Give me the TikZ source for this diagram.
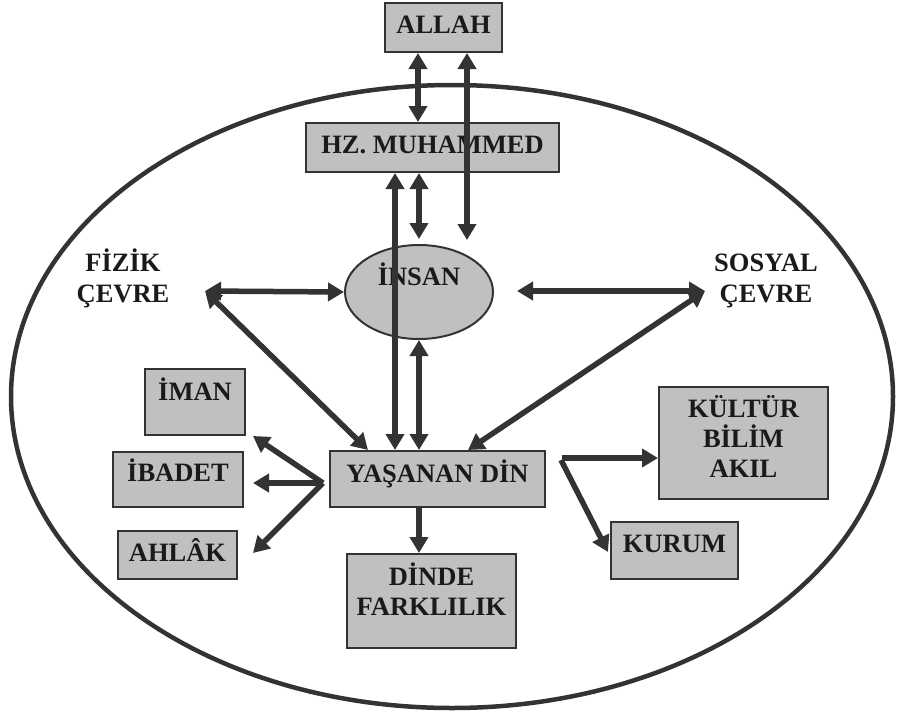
\documentclass[tikz,border=0pt]{standalone}
\usepackage{fontspec}
\setmainfont{Liberation Serif}
\usetikzlibrary{arrows.meta,shapes.geometric}
\definecolor{boxgray}{HTML}{C0C0C0}
\definecolor{inkgray}{HTML}{333333}
\definecolor{txtgray}{HTML}{1A1A1A}
\tikzset{
  boxnode/.style={draw=inkgray, line width=2pt, fill=boxgray, inner sep=0pt, rectangle},
  lbl/.style={anchor=base, inner sep=0pt, text=txtgray, font=\fontsize{26.5}{30}\selectfont\bfseries},
  arr/.style={draw=inkgray, line width=5.5pt, -{Triangle[length=16pt,width=18pt]}},
  dbl/.style={draw=inkgray, line width=5.5pt, {Triangle[length=16pt,width=18pt]}-{Triangle[length=16pt,width=18pt]}},
}
\begin{document}
\begin{tikzpicture}[x=1pt,y=-1pt]
\useasboundingbox (0,0) rectangle (897,713);
% outer ellipse
\draw[inkgray, line width=4.5pt] (452,396.5) ellipse [x radius=441, y radius=311.5];
% boxes
\node[boxnode, minimum width=117pt, minimum height=49pt] (allah) at (443.5,27.5) {};
\node[boxnode, minimum width=253pt, minimum height=49pt] (hz) at (432.5,147.5) {};
\node[draw=inkgray, line width=2pt, fill=boxgray, ellipse, inner sep=0pt, minimum width=148pt, minimum height=94pt] (insan) at (419,292) {};
\node[boxnode, minimum width=215pt, minimum height=56pt] (yasanan) at (437.5,479) {};
\node[boxnode, minimum width=100pt, minimum height=66pt] (iman) at (195,402) {};
\node[boxnode, minimum width=130pt, minimum height=55pt] (ibadet) at (178,479.5) {};
\node[boxnode, minimum width=119pt, minimum height=48pt] (ahlak) at (177.5,555) {};
\node[boxnode, minimum width=169pt, minimum height=94pt] (dinde) at (431.5,601) {};
\node[boxnode, minimum width=169pt, minimum height=112pt] (kultur) at (743.5,443) {};
\node[boxnode, minimum width=127pt, minimum height=57pt] (kurum) at (674.5,550.5) {};
% texts
\node[lbl] (tallah) at (443.5,33) {ALLAH};
\node[lbl] (thz) at (432.5,153) {HZ. MUHAMMED};
\node[lbl] (tinsan) at (419,285) {İNSAN};
\node[lbl] (tfizik1) at (123,271) {FİZİK};
\node[lbl] (tfizik2) at (123,302) {ÇEVRE};
\node[lbl] (tsosyal1) at (766,271) {SOSYAL};
\node[lbl] (tsosyal2) at (766,302) {ÇEVRE};
\node[lbl] (timan) at (195,400) {İMAN};
\node[lbl] (tibadet) at (178,481) {İBADET};
\node[lbl] (tahlak) at (177.5,561) {AHLÂK};
\node[lbl] (tyasanan) at (437.5,482) {YAŞANAN DİN};
\node[lbl] (tdinde1) at (431.5,585) {DİNDE};
\node[lbl] (tdinde2) at (431.5,615) {FARKLILIK};
\node[lbl] (tkultur1) at (743.5,417) {KÜLTÜR};
\node[lbl] (tkultur2) at (743.5,447) {BİLİM};
\node[lbl] (tkultur3) at (743.5,477) {AKIL};
\node[lbl] (tkurum) at (674.5,552) {KURUM};
% helper coordinates
\coordinate (x395) at (395,0);
\coordinate (x418) at (418,0);
\coordinate (x419) at (419,0);
\coordinate (x467) at (467,0);
\coordinate (x368) at (368,0);
\coordinate (x468) at (468,0);
\coordinate (fz) at (205,291);
\coordinate (sz) at (705,291);
\coordinate (insanR) at (517,291);
\coordinate (tip467) at (467,240);
\coordinate (yl) at (323,483);
\coordinate (timanTip) at (253,436);
\coordinate (tibadetTip) at (253,483);
\coordinate (tahlakTip) at (253,553);
\coordinate (r1) at (562,458);
\coordinate (r2) at (561,460);
\coordinate (kTip) at (658,458);
\coordinate (kuTip) at (608,552);
% connectors
\draw[dbl] (allah.south -| x418) -- (hz.north -| x418);
\draw[dbl] (allah.south -| x467) -- (tip467);
\draw[dbl, shorten >=5pt] (hz.south -| x419) -- (insan.north);
\draw[dbl] (hz.south -| x395) -- (yasanan.north -| x395);
\draw[dbl] (insan.south) -- (yasanan.north -| x419);
\draw[dbl] (fz) -- (insan.west);
\draw[dbl] (fz) -- (yasanan.north -| x368);
\draw[dbl] (sz) -- (insanR);
\draw[dbl] (sz) -- (yasanan.north -| x468);
\draw[arr] (yl) -- (timanTip);
\draw[arr] (yl) -- (tibadetTip);
\draw[arr] (yl) -- (tahlakTip);
\draw[arr] (yasanan.south -| x419) -- (dinde.north -| x419);
\draw[arr] (r1) -- (kTip);
\draw[arr] (r2) -- (kuTip);
\end{tikzpicture}
\end{document}
